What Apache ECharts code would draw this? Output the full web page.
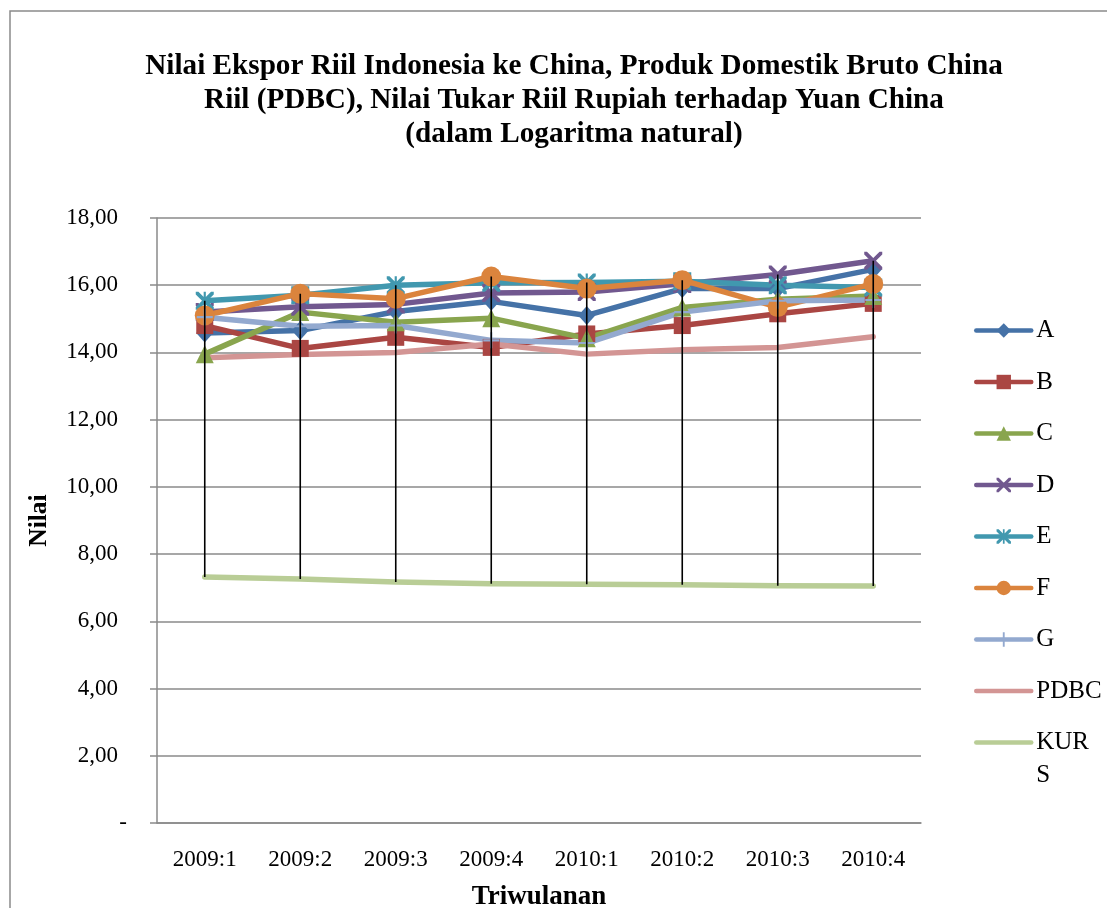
<!DOCTYPE html>
<html>
<head>
<meta charset="utf-8">
<title>Nilai Ekspor Riil Indonesia ke China</title>
<script src="https://cdn.jsdelivr.net/npm/echarts@6/dist/echarts.min.js"></script>
<style>
  html, body { margin: 0; padding: 0; background: #ffffff; }
  #chart { width: 1107px; height: 908px; }
</style>
</head>
<body>
<div id="chart"></div>
<script>
// Quarterly periods on the category axis
const categories = ['2009:1', '2009:2', '2009:3', '2009:4', '2010:1', '2010:2', '2010:3', '2010:4'];

// Natural-log values per series
const seriesA    = [14.58, 14.65, 15.22, 15.52, 15.10, 15.90, 15.90, 16.47];
const seriesB    = [14.80, 14.12, 14.45, 14.15, 14.55, 14.80, 15.15, 15.46];
const seriesC    = [13.95, 15.20, 14.90, 15.02, 14.42, 15.34, 15.58, 15.68];
const seriesD    = [15.20, 15.36, 15.43, 15.77, 15.80, 16.04, 16.32, 16.73];
const seriesE    = [15.54, 15.70, 16.00, 16.07, 16.08, 16.12, 16.00, 15.93];
const seriesF    = [15.10, 15.75, 15.60, 16.26, 15.90, 16.15, 15.35, 16.04];
const seriesG    = [15.05, 14.78, 14.80, 14.36, 14.28, 15.20, 15.54, 15.56];
const seriesPDBC = [13.84, 13.94, 14.00, 14.25, 13.95, 14.08, 14.15, 14.47];
const seriesKURS = [7.32, 7.26, 7.17, 7.12, 7.10, 7.09, 7.06, 7.05];

// Value-axis ticks
const yMin = 0;
const yMax = 18;
const yStep = 2;

const FONT = '"Liberation Serif", "Times New Roman", serif';

// Marker shapes
const X_PATH = 'M0,0L3,0L10,7L17,0L20,0L20,3L13,10L20,17L20,20L17,20L10,13L3,20L0,20L0,17L7,10L0,3Z';
const X_MARK = 'path://' + X_PATH;
const STAR_MARK = 'path://' + X_PATH + 'M8.8,0L11.2,0L11.2,20L8.8,20Z';
const PLUS_MARK = 'path://M8.7,0L11.3,0L11.3,8.7L20,8.7L20,11.3L11.3,11.3L11.3,20L8.7,20L8.7,11.3L0,11.3L0,8.7L8.7,8.7Z';

const defs = [
  { name: 'A',    data: seriesA,    color: '#4572A7', symbol: 'diamond',  size: [17, 19] },
  { name: 'B',    data: seriesB,    color: '#AA4643', symbol: 'rect',     size: 17 },
  { name: 'C',    data: seriesC,    color: '#89A54E', symbol: 'triangle', size: 18 },
  { name: 'D',    data: seriesD,    color: '#71588F', symbol: X_MARK,     size: 18 },
  { name: 'E',    data: seriesE,    color: '#4198AF', symbol: STAR_MARK,  size: 18 },
  { name: 'F',    data: seriesF,    color: '#DB843D', symbol: 'circle',   size: 20 },
  { name: 'G',    data: seriesG,    color: '#93A9CF', symbol: PLUS_MARK,  size: 16 },
  { name: 'PDBC', data: seriesPDBC, color: '#D39594', symbol: 'none',     size: 0 },
  { name: 'KURS', data: seriesKURS, color: '#B9CD96', symbol: 'none',     size: 0 }
];

const lineSeries = defs.map(d => ({
  name: d.name,
  type: 'line',
  data: d.data,
  symbol: d.symbol,
  symbolSize: d.size,
  showSymbol: d.symbol !== 'none',
  color: d.color,
  lineStyle: { width: 5.5, color: d.color, cap: 'round', join: 'round' },
  itemStyle: { color: d.color },
  emphasis: { disabled: true },
  animation: false
}));

// High-low lines: from the highest to the lowest value at each period
const allSeries = defs.map(d => d.data);
const highLow = categories.map((c, i) => {
  const vals = allSeries.map(s => s[i]);
  return [i, Math.min.apply(null, vals), Math.max.apply(null, vals)];
});

const highLowSeries = {
  name: 'highlow',
  type: 'custom',
  data: highLow,
  z: 10,
  silent: true,
  animation: false,
  renderItem: function (params, api) {
    const lo = api.coord([api.value(0), api.value(1)]);
    const hi = api.coord([api.value(0), api.value(2)]);
    return {
      type: 'line',
      shape: { x1: lo[0], y1: lo[1], x2: hi[0], y2: hi[1] },
      style: { stroke: '#000000', lineWidth: 1.6 }
    };
  }
};

// Legend entries; the two plain-line series get no marker in their key
const legendItems = defs.slice(0, 8).map(d => (
  d.symbol === 'none' ? { name: d.name, itemStyle: { opacity: 0 } } : { name: d.name }
));

const legendCommon = {
  orient: 'vertical',
  left: 974,
  padding: 0,
  itemWidth: 55,
  itemHeight: 18,
  selectedMode: false,
  lineStyle: { width: 4.5, cap: 'round' }
};

const option = {
  backgroundColor: '#ffffff',
  animation: false,
  title: {
    text: 'Nilai Ekspor Riil Indonesia ke China, Produk Domestik Bruto China\nRiil (PDBC), Nilai Tukar Riil Rupiah terhadap Yuan China\n(dalam Logaritma natural)',
    left: 574,
    top: 49,
    padding: 0,
    textAlign: 'center',
    textStyle: { fontFamily: FONT, fontSize: 29.2, fontWeight: 'bold', color: '#000', lineHeight: 34 }
  },
  legend: [
    Object.assign({}, legendCommon, {
      top: 318,
      itemGap: 26.5,
      data: legendItems,
      textStyle: { fontFamily: FONT, fontSize: 25, color: '#000', lineHeight: 24 }
    }),
    Object.assign({}, legendCommon, {
      top: 693,
      data: [{ name: 'KURS', itemStyle: { opacity: 0 } }],
      formatter: function (n) { return '\n' + n.slice(0, 3) + '\n' + n.slice(3); },
      textStyle: { fontFamily: FONT, fontSize: 25, color: '#000', lineHeight: 33 }
    })
  ],
  grid: { left: 157, right: 186, top: 218, bottom: 85, containLabel: false, outerBoundsMode: 'none' },
  xAxis: {
    type: 'category',
    data: categories,
    boundaryGap: true,
    name: 'Triwulanan',
    nameLocation: 'middle',
    nameGap: 61,
    nameTextStyle: { fontFamily: FONT, fontSize: 27, fontWeight: 'bold', color: '#000' },
    axisLine: { lineStyle: { color: '#8a8a8a', width: 1.5 } },
    axisTick: { show: false },
    axisLabel: { fontFamily: FONT, fontSize: 23, color: '#000', margin: 25, interval: 0 }
  },
  yAxis: {
    type: 'value',
    min: yMin,
    max: yMax,
    interval: yStep,
    name: 'Nilai',
    nameLocation: 'middle',
    nameGap: 105,
    nameRotate: 90,
    nameTextStyle: { fontFamily: FONT, fontSize: 25.5, fontWeight: 'bold', color: '#000' },
    axisLine: { show: true, lineStyle: { color: '#8a8a8a', width: 1.5 } },
    axisTick: { show: true, inside: false, length: 7, lineStyle: { color: '#8a8a8a', width: 1.5 } },
    splitLine: { show: true, lineStyle: { color: '#8a8a8a', width: 1.5 } },
    axisLabel: {
      margin: 30,
      formatter: function (v) {
        return v === 0 ? '{z|-}' : '{n|' + v.toFixed(2).replace('.', ',') + '}';
      },
      rich: {
        n: { fontFamily: FONT, fontSize: 23, color: '#000', padding: [0, 9, 0, 0] },
        z: { fontFamily: FONT, fontSize: 23, color: '#000' }
      }
    }
  },
  graphic: [
    {
      type: 'rect',
      silent: true,
      shape: { x: 10, y: 11, width: 1200, height: 1000 },
      style: { fill: 'none', stroke: '#8a8a8a', lineWidth: 1.5 }
    }
  ],
  series: lineSeries.concat([highLowSeries])
};

const chart = echarts.init(document.getElementById('chart'), null, { renderer: 'canvas' });
chart.setOption(option);
</script>
</body>
</html>
